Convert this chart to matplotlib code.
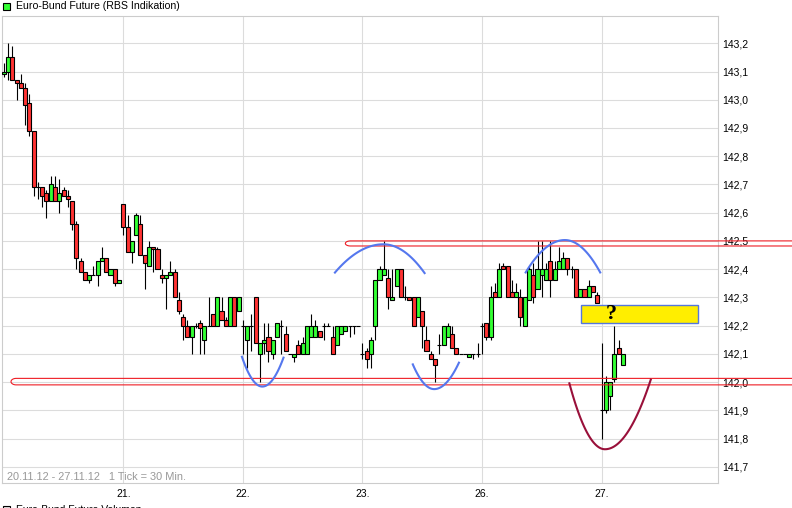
import numpy as np
import matplotlib
matplotlib.use("Agg")
import matplotlib.pyplot as plt
from matplotlib.patches import Rectangle

plt.rcParams['font.family'] = ['Liberation Sans', 'DejaVu Sans']

title = "Euro-Bund Future (RBS Indikation)"
footer = "20.11.12 - 27.11.12   1 Tick = 30 Min."
volume_title = "Euro-Bund Future Volumen"
day_labels = ["21.", "22.", "23.", "26.", "27."]
bars_per_day = 28
price_ticks = [141.7, 141.8, 141.9, 142.0, 142.1, 142.2, 142.3, 142.4,
               142.5, 142.6, 142.7, 142.8, 142.9, 143.0, 143.1, 143.2]

# 30-minute candles, 20.11. - 27.11.
opens = [143.09, 143.10, 143.15, 143.07, 143.06, 143.04, 142.99, 142.89, 142.69, 142.69,
         142.67, 142.64, 142.69, 142.64, 142.68, 142.66, 142.64, 142.56, 142.43, 142.39,
         142.36, 142.38, 142.38, 142.43, 142.44, 142.38, 142.40, 142.35,
         142.63, 142.55, 142.46, 142.52, 142.56, 142.45, 142.41, 142.48, 142.47, 142.38,
         142.37, 142.38, 142.39, 142.29, 142.23, 142.20, 142.16, 142.20, 142.21, 142.15,
         142.20, 142.24, 142.20, 142.25, 142.22, 142.20, 142.30, 142.25,
         142.20, 142.15, 142.20, 142.30, 142.10, 142.14, 142.16, 142.10, 142.16, 142.20,
         142.17, 142.10, 142.09, 142.13, 142.10, 142.10, 142.16, 142.16, 142.18, 142.20,
         142.20, 142.16, 142.13, 142.17, 142.18, 142.20, 142.20, 142.20,
         142.10, 142.11, 142.10, 142.20, 142.36, 142.38, 142.37, 142.29, 142.34, 142.40,
         142.30, 142.30, 142.30, 142.23, 142.25, 142.15, 142.10, 142.08, 142.13, 142.13,
         142.16, 142.17, 142.12, 142.10, 142.10, 142.09, 142.10, 142.10,
         142.20, 142.21, 142.16, 142.32, 142.30, 142.41, 142.41, 142.32, 142.30, 142.30,
         142.20, 142.29, 142.38, 142.33, 142.38, 142.36, 142.43, 142.36, 142.40, 142.40,
         142.44, 142.40, 142.40, 142.30, 142.33, 142.30, 142.34, 142.31,
         141.90, 141.90, 141.95, 142.01, 142.12, 142.06]
highs = [143.13, 143.20, 143.19, 143.07, 143.09, 143.06, 143.02, 142.89, 142.71, 142.69,
         142.68, 142.73, 142.73, 142.72, 142.69, 142.68, 142.64, 142.57, 142.44, 142.39,
         142.38, 142.41, 142.43, 142.48, 142.44, 142.40, 142.40, 142.36,
         142.63, 142.59, 142.50, 142.60, 142.59, 142.45, 142.50, 142.48, 142.48, 142.40,
         142.38, 142.43, 142.40, 142.32, 142.24, 142.22, 142.20, 142.21, 142.22, 142.20,
         142.30, 142.24, 142.30, 142.30, 142.23, 142.30, 142.30, 142.30,
         142.22, 142.20, 142.24, 142.30, 142.14, 142.21, 142.21, 142.15, 142.21, 142.22,
         142.20, 142.10, 142.10, 142.15, 142.16, 142.20, 142.24, 142.22, 142.18, 142.21,
         142.21, 142.20, 142.20, 142.20, 142.20, 142.20, 142.20, 142.20,
         142.14, 142.12, 142.16, 142.36, 142.41, 142.50, 142.40, 142.40, 142.40, 142.40,
         142.34, 142.30, 142.30, 142.30, 142.25, 142.20, 142.11, 142.08, 142.17, 142.20,
         142.21, 142.20, 142.12, 142.10, 142.10, 142.10, 142.10, 142.14,
         142.21, 142.21, 142.34, 142.35, 142.42, 142.42, 142.41, 142.36, 142.35, 142.33,
         142.30, 142.41, 142.42, 142.50, 142.50, 142.42, 142.50, 142.43, 142.48, 142.46,
         142.44, 142.41, 142.40, 142.33, 142.33, 142.36, 142.34, 142.32,
         142.14, 142.02, 142.00, 142.20, 142.15, 142.10]
lows = [143.08, 143.07, 143.07, 143.00, 143.04, 142.91, 142.87, 142.66, 142.65, 142.62,
        142.58, 142.64, 142.64, 142.60, 142.66, 142.62, 142.54, 142.40, 142.39, 142.36,
        142.35, 142.38, 142.34, 142.43, 142.39, 142.38, 142.34, 142.35,
        142.52, 142.46, 142.42, 142.52, 142.45, 142.33, 142.41, 142.39, 142.40, 142.35,
        142.26, 142.38, 142.30, 142.24, 142.15, 142.16, 142.10, 142.19, 142.10, 142.10,
        142.20, 142.20, 142.20, 142.22, 142.20, 142.20, 142.20, 142.25,
        142.10, 142.05, 142.11, 142.14, 142.00, 142.10, 142.07, 142.08, 142.16, 142.10,
        142.11, 142.10, 142.07, 142.10, 142.10, 142.10, 142.16, 142.16, 142.16, 142.15,
        142.20, 142.10, 142.13, 142.17, 142.18, 142.16, 142.17, 142.20,
        142.08, 142.05, 142.05, 142.15, 142.36, 142.38, 142.26, 142.29, 142.34, 142.30,
        142.29, 142.29, 142.20, 142.23, 142.12, 142.11, 142.08, 142.00, 142.10, 142.13,
        142.16, 142.12, 142.10, 142.10, 142.10, 142.09, 142.08, 142.09,
        142.10, 142.15, 142.15, 142.30, 142.30, 142.40, 142.30, 142.30, 142.30, 142.20,
        142.20, 142.29, 142.28, 142.33, 142.30, 142.36, 142.30, 142.36, 142.40, 142.40,
        142.38, 142.37, 142.30, 142.30, 142.30, 142.30, 142.32, 142.28,
        141.80, 141.89, 141.90, 142.00, 142.10, 142.06]
closes = [143.10, 143.15, 143.07, 143.06, 143.04, 142.98, 142.89, 142.69, 142.69, 142.66,
          142.64, 142.70, 142.64, 142.67, 142.66, 142.65, 142.56, 142.44, 142.39, 142.36,
          142.38, 142.38, 142.43, 142.44, 142.39, 142.40, 142.35, 142.36,
          142.55, 142.46, 142.50, 142.59, 142.45, 142.42, 142.48, 142.47, 142.40, 142.37,
          142.38, 142.39, 142.30, 142.25, 142.20, 142.16, 142.20, 142.20, 142.19, 142.20,
          142.20, 142.20, 142.30, 142.22, 142.20, 142.30, 142.20, 142.30,
          142.20, 142.20, 142.20, 142.14, 142.14, 142.15, 142.11, 142.15, 142.21, 142.20,
          142.11, 142.10, 142.10, 142.10, 142.14, 142.20, 142.20, 142.20, 142.16, 142.20,
          142.20, 142.10, 142.20, 142.20, 142.20, 142.20, 142.20, 142.20,
          142.10, 142.08, 142.15, 142.36, 142.40, 142.40, 142.30, 142.30, 142.40, 142.30,
          142.30, 142.29, 142.20, 142.30, 142.20, 142.11, 142.08, 142.06, 142.13, 142.20,
          142.20, 142.12, 142.10, 142.10, 142.10, 142.10, 142.10, 142.10,
          142.20, 142.16, 142.30, 142.30, 142.40, 142.40, 142.30, 142.30, 142.32, 142.23,
          142.30, 142.40, 142.30, 142.40, 142.40, 142.40, 142.36, 142.40, 142.43, 142.44,
          142.40, 142.40, 142.30, 142.33, 142.30, 142.34, 142.32, 142.28,
          141.90, 142.00, 142.00, 142.10, 142.10, 142.10]

# hand-drawn annotations (bar index / price)
channels = [(1.7, 141.990, 142.013), (80.0, 142.482, 142.500)]
blue_arcs = [(55.7, 60.55, 65.6, 142.093, 141.984, 142.090),
             (77.4, 88.9, 98.7, 142.385, 142.488, 142.383),
             (95.7, 100.8, 106.7, 142.066, 141.975, 142.072),
             (122.1, 131.4, 139.8, 142.385, 142.503, 142.385)]
red_arc = (132.4, 140.8, 151.6, 141.999, 141.762, 142.012)
question_box = (135.3, 162.5, 142.208, 142.272)

W, H = 792, 508
fig = plt.figure(figsize=(W / 100, H / 100), dpi=100)
ax = fig.add_axes([2 / W, 1 - 483 / H, 716 / W, 467 / H])

x = np.arange(len(opens))
o = np.array(opens)
h = np.array(highs)
l = np.array(lows)
c = np.array(closes)
up = c > o
dn = c < o
flat = c == o

ax.vlines(x, l, h, color='black', lw=0.8, zorder=3)
ax.bar(x[up], (c - o)[up], 0.95, bottom=o[up], color='#33ff33',
       edgecolor='black', lw=0.8, zorder=4)
ax.bar(x[dn], (o - c)[dn], 0.95, bottom=c[dn], color='#ff3333',
       edgecolor='black', lw=0.8, zorder=4)
ax.hlines(o[flat], x[flat] - 0.475, x[flat] + 0.475, color='black', lw=0.8, zorder=4)

# support / resistance channels with rounded left end
for x_left, lo, hi in channels:
    rx = 1.2
    t = np.linspace(np.pi / 2, 3 * np.pi / 2, 30)
    ex = x_left + rx + rx * np.cos(t)
    ey = (lo + hi) / 2 + (hi - lo) / 2 * np.sin(t)
    xs = np.concatenate([[200], ex, [200]])
    ys = np.concatenate([[hi], ey, [lo]])
    ax.plot(xs, ys, color='#ee1c24', lw=0.8, zorder=6, clip_on=False)


def draw_arc(x0, xv, x1, y0, yv, y1, color):
    xl = np.linspace(x0, xv, 40)
    yl = yv + (y0 - yv) * ((xl - xv) / (x0 - xv)) ** 2
    xr = np.linspace(xv, x1, 40)
    yr = yv + (y1 - yv) * ((xr - xv) / (x1 - xv)) ** 2
    ax.plot(np.concatenate([xl, xr]), np.concatenate([yl, yr]),
            color=color, lw=1.5, zorder=7, solid_capstyle='butt')


for a in blue_arcs:
    draw_arc(*a, color='#5577ee')
draw_arc(*red_arc, color='#99103a')

bx0, bx1, by0, by1 = question_box
ax.add_patch(Rectangle((bx0, by0), bx1 - bx0, by1 - by0, facecolor='#ffee00',
                       edgecolor='#5577dd', lw=1.0, zorder=8))
ax.text(142.2, by1 + 0.004, "?", fontsize=16, fontweight='bold',
        family=['Liberation Serif', 'DejaVu Serif'], ha='center', va='top',
        color='black', zorder=9)

ax.set_xlim(-0.41, 167.27)
ax.set_ylim(141.6424, 143.2967)

ax.set_xticks([bars_per_day * (k + 1) for k in range(len(day_labels))])
ax.set_xticklabels(day_labels)
ax.yaxis.tick_right()
ax.set_yticks(price_ticks)
ax.set_yticklabels([f"{p:.1f}".replace('.', ',') for p in price_ticks])
ax.tick_params(axis='x', length=0, pad=4.3, labelsize=7.5)
ax.tick_params(axis='y', length=0, pad=3, labelsize=7.5)
ax.grid(color='#dcdcdc', lw=0.8)
ax.set_axisbelow(True)
for s in ax.spines.values():
    s.set_color('#cccccc')
    s.set_linewidth(0.8)

fig.text(7.3 / W, 1 - 476.5 / H, footer, color='#999999', fontsize=7.9, va='center')

fig.add_artist(Rectangle((3.3 / W, 1 - 9.5 / H), 6.7 / W, 6.7 / H, transform=fig.transFigure,
                         facecolor='#33ff33', edgecolor='black', lw=0.8))
fig.text(16 / W, 1 - 6 / H, title, fontsize=7.6, va='center')

# volume legend, cut by the bottom edge as in the source image
fig.add_artist(Rectangle((3 / W, 1 - 513 / H), 6.7 / W, 6.7 / H, transform=fig.transFigure,
                         facecolor='#dddddd', edgecolor='black', lw=0.8))
fig.text(16 / W, 1 - 505 / H, volume_title, fontsize=7.5, va='top')

fig.savefig("out.png", dpi=100)
